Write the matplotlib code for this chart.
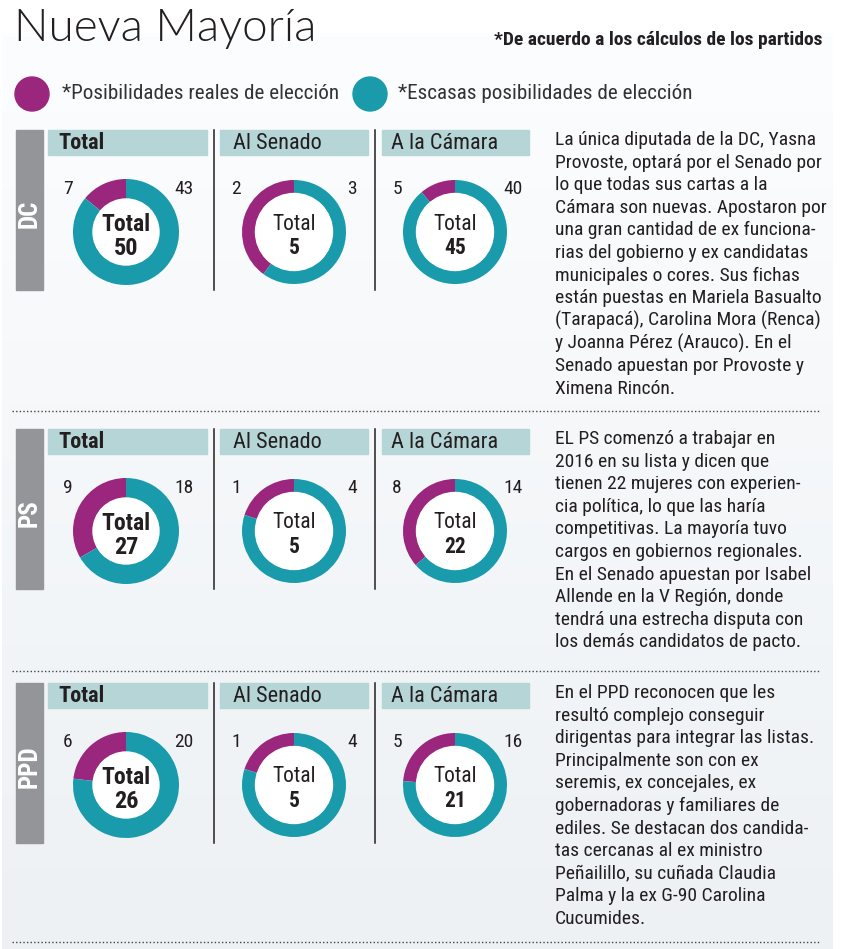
import matplotlib
matplotlib.use("Agg")
import matplotlib.pyplot as plt
import numpy as np
from matplotlib.patches import Rectangle, Circle

# ---- data ----
parties = ["DC", "PS", "PPD"]
columns = ["Total", "Al Senado", "A la Cámara"]
real = [[7, 2, 5], [9, 1, 8], [6, 1, 5]]          # posibilidades reales
scarce = [[43, 3, 40], [18, 4, 14], [20, 4, 16]]  # escasas posibilidades

notes = [
    ["La única diputada de la DC, Yasna",
     "Provoste, optará por el Senado por",
     "lo que todas sus cartas a la",
     "Cámara son nuevas. Apostaron por",
     "una gran cantidad de ex funciona-",
     "rias del gobierno y ex candidatas",
     "municipales o cores. Sus fichas",
     "están puestas en Mariela Basualto",
     "(Tarapacá), Carolina Mora (Renca)",
     "y Joanna Pérez (Arauco). En el",
     "Senado apuestan por Provoste y",
     "Ximena Rincón."],
    ["EL PS comenzó a trabajar en",
     "2016 en su lista y dicen que",
     "tienen 22 mujeres con experien-",
     "cia política, lo que las haría",
     "competitivas. La mayoría tuvo",
     "cargos en gobiernos regionales.",
     "En el Senado apuestan por Isabel",
     "Allende en la V Región, donde",
     "tendrá una estrecha disputa con",
     "los demás candidatos de pacto."],
    ["En el PPD reconocen que les",
     "resultó complejo conseguir",
     "dirigentas para integrar las listas.",
     "Principalmente son con ex",
     "seremis, ex concejales, ex",
     "gobernadoras y familiares de",
     "ediles. Se destacan dos candida-",
     "tas cercanas al ex ministro",
     "Peñailillo, su cuñada Claudia",
     "Palma y la ex G-90 Carolina",
     "Cucumides."],
]

PURPLE = "#9b267d"
TEAL = "#1a9bac"
HEAD = "#b5d5d7"
GREY = "#939598"
INK = "#231f20"
NARROW = ["Roboto Condensed", "DejaVu Sans Condensed", "Lato", "DejaVu Sans"]

W, H = 852, 949
def Y(y):
    return H - y

fig = plt.figure(figsize=(8.52, 9.49), dpi=100)
ax = fig.add_axes([0, 0, 1, 1])

# background panel (soft vertical gradient)
grad = np.linspace(0, 1, 256).reshape(-1, 1)
cmap = matplotlib.colors.LinearSegmentedColormap.from_list("bg", ["#edf1f4", "#fcfdfe"])
ax.imshow(grad, extent=(2, 833, 0, Y(33)), cmap=cmap, aspect="auto", origin="lower", zorder=0)

# title, source note, legend
ax.text(14, Y(28), "Nueva Mayoría", fontsize=33, family=["Lato", "DejaVu Sans"],
        fontweight=300, color=INK, va="center")
ax.text(823, Y(40), "*De acuerdo a los cálculos de los partidos", fontsize=14,
        family=NARROW, fontweight="bold", color=INK, ha="right", va="center")
ax.add_patch(Circle((32, Y(94)), 17, color=PURPLE, zorder=2))
ax.text(62, Y(93), "*Posibilidades reales de elección", fontsize=15.2, family=NARROW,
        color="#333333", va="center")
ax.add_patch(Circle((370, Y(94)), 17, color=TEAL, zorder=2))
ax.text(398, Y(93), "*Escasas posibilidades de elección", fontsize=15.2, family=NARROW,
        color="#333333", va="center")

tops = [130, 429, 683]
dots = [411, 671, 942]
box_x = [(48, 207), (220, 368), (382, 529)]
head_x = [58, 233, 391]
cx = [126, 294, 455]
outer = [53, 52, 52]
inner = [33, 38.5, 38.5]

for i, party in enumerate(parties):
    top = tops[i]
    ax.add_patch(Rectangle((16, Y(top + 160)), 27, 160, color=GREY, zorder=2))
    ax.text(30, Y(top + 84), party, rotation=90, color="white", fontsize=18,
            family=NARROW, fontweight="bold", ha="center", va="center", zorder=3)
    for sx in (213.5, 374.5):
        ax.plot([sx, sx], [Y(top), Y(top + 160)], color=INK, lw=1.1, zorder=2)
    cy = top + 102
    for j, col in enumerate(columns):
        x0, x1 = box_x[j]
        ax.add_patch(Rectangle((x0, Y(top + 25)), x1 - x0, 25, color=HEAD, zorder=2))
        ax.text(head_x[j], Y(top + 13), col, fontsize=16, family=NARROW, color=INK,
                fontweight="bold" if j == 0 else "normal", va="center", zorder=3)
        r, s = real[i][j], scarce[i][j]
        ax.pie([r, s], colors=[PURPLE, TEAL], startangle=90, counterclock=True,
               center=(cx[j], Y(cy)), radius=outer[j],
               wedgeprops=dict(width=outer[j] - inner[j], linewidth=0))
        ax.add_patch(Circle((cx[j], Y(cy)), inner[j], color="white", zorder=3))
        ax.text(cx[j] - 58, Y(cy - 43), str(r), fontsize=14, family=NARROW,
                color=INK, ha="center", va="center")
        ax.text(cx[j] + 58, Y(cy - 43), str(s), fontsize=14, family=NARROW,
                color=INK, ha="center", va="center")
        big = j == 0
        ax.text(cx[j], Y(cy - 8), "Total", fontsize=17 if big else 15.5, family=NARROW,
                color=INK, fontweight="bold" if big else "normal",
                ha="center", va="center", zorder=4)
        ax.text(cx[j], Y(cy + 16), str(r + s), fontsize=17.5 if big else 15.5,
                family=NARROW, color=INK, fontweight="bold",
                ha="center", va="center", zorder=4)
    for k, line in enumerate(notes[i]):
        ax.text(555, Y(top + 10 + 22.6 * k), line, fontsize=14, family=NARROW,
                color=INK, va="center")
    ax.plot([12, 820], [Y(dots[i]), Y(dots[i])], color="#444444", lw=1,
            linestyle=(0, (1, 1.6)), zorder=2)

ax.set_xlim(0, W)
ax.set_ylim(0, H)
ax.set_aspect("auto")
ax.axis("off")

fig.savefig("out.png", dpi=100, facecolor="white")
